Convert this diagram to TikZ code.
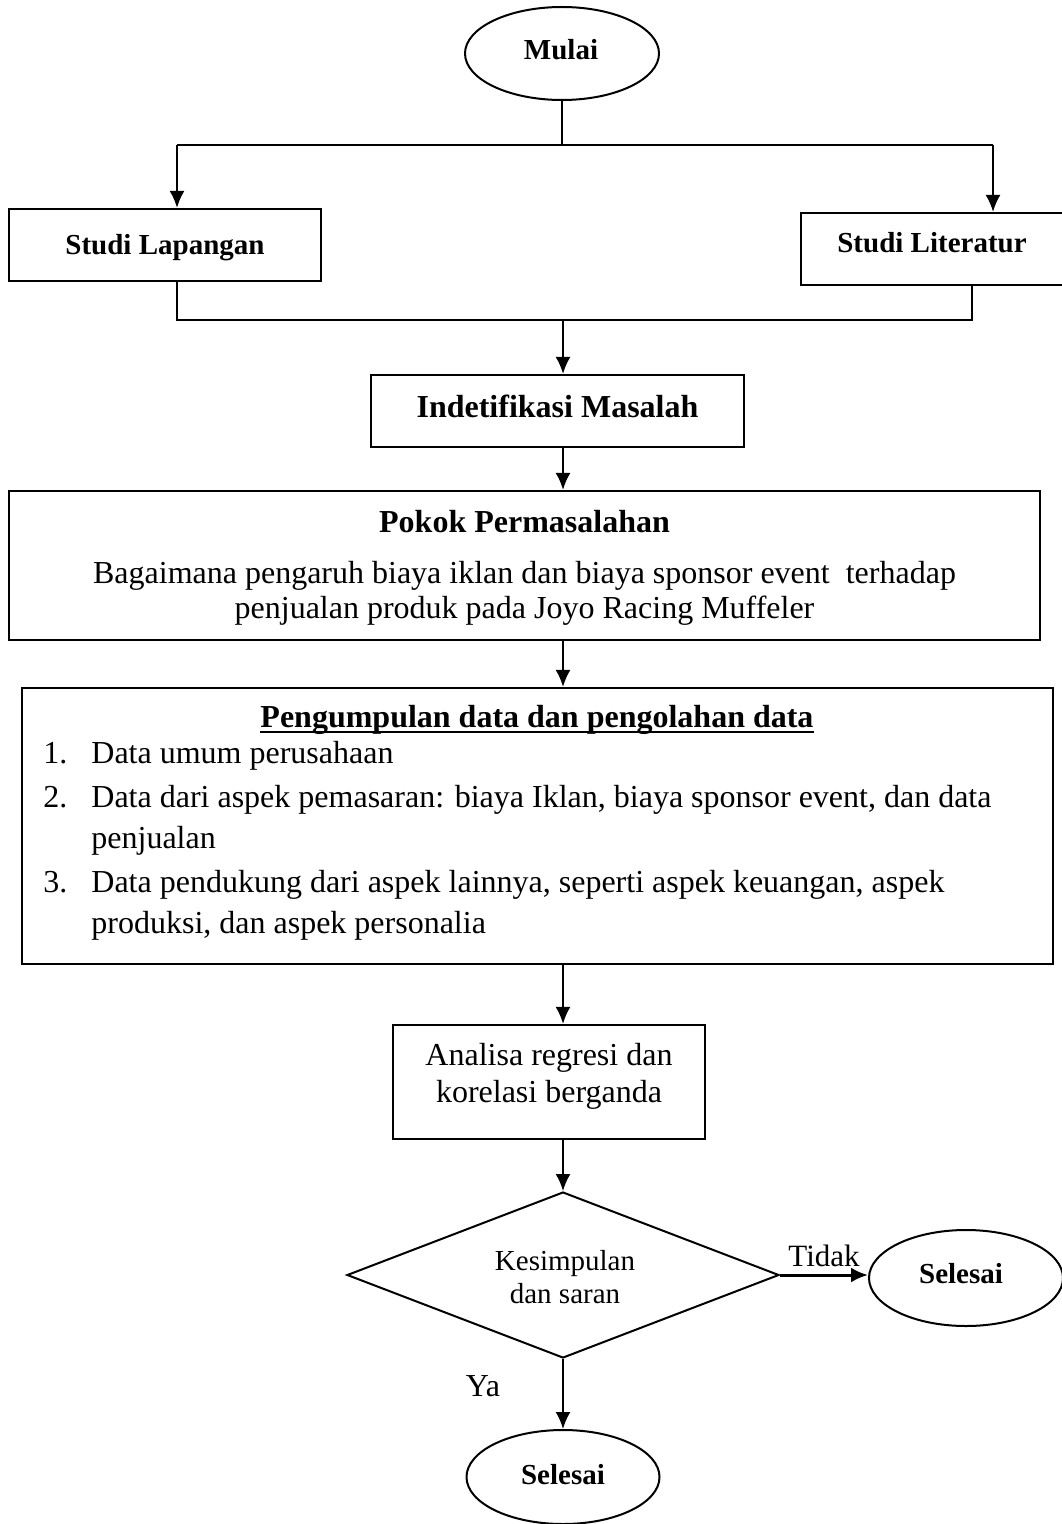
\documentclass[tikz,border=0pt]{standalone}
\usepackage{fontspec}
\setmainfont{Liberation Serif}
\usetikzlibrary{shapes.geometric,arrows.meta}
\begin{document}
\begin{tikzpicture}[x=0.5pt,y=-0.5pt,
  box/.style={draw,line width=1.1pt,rectangle,inner sep=0pt},
  oval/.style={draw,line width=1pt,ellipse,inner sep=0pt},
  conn/.style={line width=1pt},
  tip/.style={-{Latex[length=8.5pt,width=7.5pt]}},
  arr/.style={line width=1pt,tip},
  txt/.style={inner sep=0pt,anchor=base,font=\fontsize{16}{19}\selectfont},
  btxt/.style={txt,font=\fontsize{16}{19}\selectfont\bfseries},
  stxt/.style={txt,font=\fontsize{14.5}{17}\selectfont},
  sbtxt/.style={txt,font=\fontsize{14.5}{17}\selectfont\bfseries},
  ltxt/.style={txt,anchor=base west}
]
\useasboundingbox (0,0) rectangle (1061,1524);

% shapes
\node[oval,minimum width=97pt,minimum height=46.5pt] (mulai) at (562,53.5) {};
\node[sbtxt] (tmulai) at (561,60) {Mulai};

\node[box,minimum width=156pt,minimum height=36pt] (lap) at (165,245) {};
\node[sbtxt] (tlap) at (165,255) {Studi Lapangan};
\node[box,minimum width=131pt,minimum height=36pt] (lit) at (932,249) {};
\node[sbtxt] (tlit) at (932,253) {Studi Literatur};

\node[box,minimum width=186.5pt,minimum height=36pt] (ide) at (557.5,411) {};
\node[btxt] (tide) at (557.5,417) {Indetifikasi Masalah};

\node[box,minimum width=515.5pt,minimum height=74.5pt] (pok) at (524.5,565.5) {};
\node[btxt] (tpok) at (524.5,532) {Pokok Permasalahan};
\node[txt] (tpok1) at (524.5,583) {Bagaimana pengaruh biaya iklan dan biaya sponsor event~ terhadap};
\node[txt] (tpok2) at (524.5,618) {penjualan produk pada Joyo Racing Muffeler};

\node[box,minimum width=515.5pt,minimum height=138pt] (kum) at (537.5,826) {};
\node[btxt] (tkum) at (537,727) {Pengumpulan data dan pengolahan data};
\draw[line width=1.2pt] ([yshift=-2.5pt]tkum.base west) -- ([yshift=-2.5pt]tkum.base east);
\node[ltxt] (n1) at (43,763) {1.};
\node[ltxt] (i1) at (91,763) {Data umum perusahaan};
\node[ltxt] (n2) at (43,807) {2.};
\node[ltxt] (i2) at (91,807) {Data dari aspek pemasaran: biaya Iklan, biaya sponsor event, dan data};
\node[ltxt] (i2b) at (91,848) {penjualan};
\node[ltxt] (n3) at (43,892) {3.};
\node[ltxt] (i3) at (91,892) {Data pendukung dari aspek lainnya, seperti aspek keuangan, aspek};
\node[ltxt] (i3b) at (91,933) {produksi, dan aspek personalia};

\node[box,minimum width=156pt,minimum height=57pt] (ana) at (549,1082) {};
\node[txt] (tana1) at (549,1065) {Analisa regresi dan};
\node[txt] (tana2) at (549,1102) {korelasi berganda};

\node[draw,diamond,line width=1pt,inner sep=0pt,minimum width=216pt,minimum height=83pt] (kes) at (563,1275) {};
\node[stxt] (tkes1) at (565,1270) {Kesimpulan};
\node[stxt] (tkes2) at (565,1303) {dan saran};

\node[oval,minimum width=97pt,minimum height=48pt] (sel2) at (966,1278) {};
\node[sbtxt] (tsel2) at (961,1283) {Selesai};
\node[oval,minimum width=96.5pt,minimum height=47pt] (sel1) at (563,1477) {};
\node[sbtxt] (tsel1) at (563,1484) {Selesai};

% connectors
\coordinate (jt) at (562,145);
\coordinate (jl) at (177,145);
\coordinate (jr) at (993,145);
\draw[conn] (mulai.south) -- (jt);
\draw[conn] (jl) -- (jr);
\draw[arr] (jl) -- (jl |- lap.north);
\draw[arr] (jr) -- (jr |- lit.north);
\coordinate (bl) at (177,320);
\coordinate (br) at (972,320);
\coordinate (bm) at (563,320);
\draw[conn] (bl |- lap.south) -- (bl) -- (br) -- (br |- lit.south);
\draw[arr] (bm) -- (bm |- ide.north);
\draw[arr] (bm |- ide.south) -- (bm |- pok.north);
\draw[arr] (bm |- pok.south) -- (bm |- kum.north);
\draw[arr] (bm |- kum.south) -- (bm |- ana.north);
\draw[arr] (bm |- ana.south) -- (kes.north);
\draw[line width=1.5pt,tip] (kes.east) -- (kes.east -| sel2.west);
\draw[arr] (kes.south) -- (sel1.north);
\node[txt,font=\fontsize{15.5}{18}\selectfont] (ttid) at (824,1266) {Tidak};
\node[txt] (tya) at (483,1396) {Ya};
\end{tikzpicture}
\end{document}
